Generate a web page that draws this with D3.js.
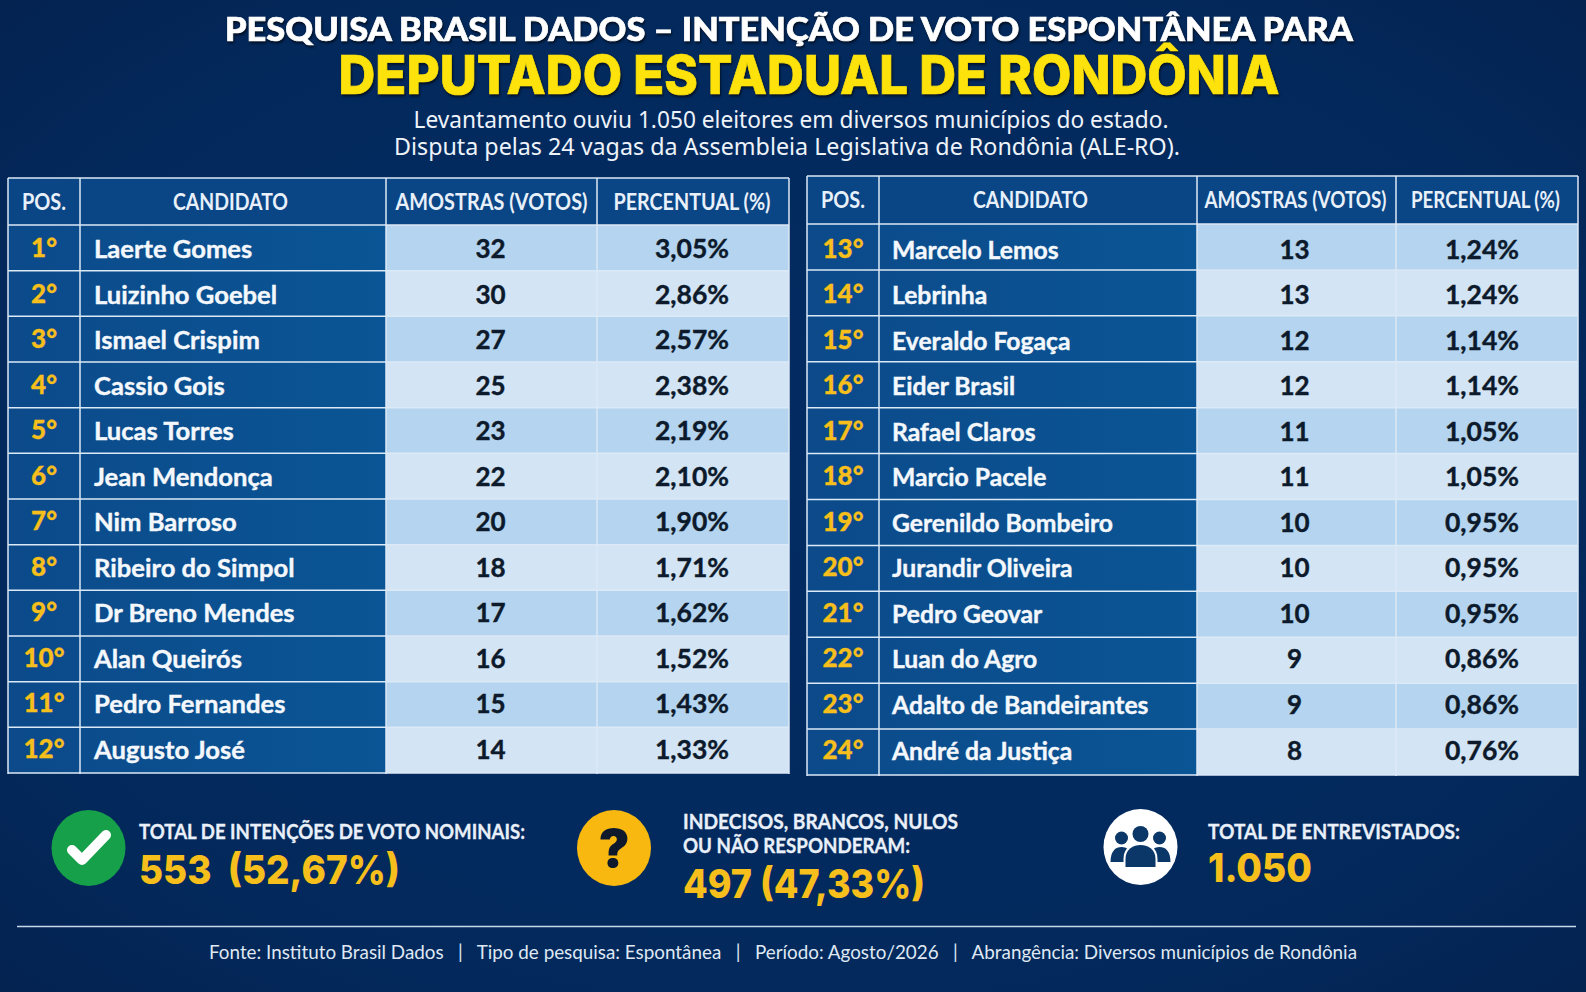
<!DOCTYPE html>
<html lang="pt-BR">
	<head>
		<meta charset="utf-8">
		<title>Pesquisa Brasil Dados - Deputado Estadual de Rondônia</title>
		<script src="https://cdn.jsdelivr.net/npm/d3@7"></script>
		<style>
			html, body { margin: 0; padding: 0; background: #03285b; overflow: hidden; }
			svg { display: block; }
			text { font-family: Lato, "Noto Sans", sans-serif; white-space: pre; }
		</style>
	</head>
	<body>
		<script type="text/javascript">
			// data
			var positions = ["1°","2°","3°","4°","5°","6°","7°","8°","9°","10°","11°","12°","13°","14°","15°","16°","17°","18°","19°","20°","21°","22°","23°","24°"];
			var candidates = ["Laerte Gomes","Luizinho Goebel","Ismael Crispim","Cassio Gois","Lucas Torres","Jean Mendonça","Nim Barroso","Ribeiro do Simpol","Dr Breno Mendes","Alan Queirós","Pedro Fernandes","Augusto José","Marcelo Lemos","Lebrinha","Everaldo Fogaça","Eider Brasil","Rafael Claros","Marcio Pacele","Gerenildo Bombeiro","Jurandir Oliveira","Pedro Geovar","Luan do Agro","Adalto de Bandeirantes","André da Justiça"];
			var votes = [32,30,27,25,23,22,20,18,17,16,15,14,13,13,12,12,11,11,10,10,10,9,9,8];
			var percents = ["3,05%","2,86%","2,57%","2,38%","2,19%","2,10%","1,90%","1,71%","1,62%","1,52%","1,43%","1,33%","1,24%","1,24%","1,14%","1,14%","1,05%","1,05%","0,95%","0,95%","0,95%","0,86%","0,86%","0,76%"];
			var headers = ["POS.","CANDIDATO","AMOSTRAS (VOTOS)","PERCENTUAL (%)"];
			var footerParts = ["Fonte: Instituto Brasil Dados","Tipo de pesquisa: Espontânea","Período: Agosto/2026","Abrangência: Diversos municípios de Rondônia"];

			var width = 1586;
			var height = 992;
			var yellow = "#f6bf1c";

			var svg = d3.select("body").append("svg").attr("width", width).attr("height", height);
			var defs = svg.append("defs");

			// background
			var bg = defs.append("radialGradient").attr("id", "bg").attr("cx", "50%").attr("cy", "50%").attr("r", "75%");
			bg.append("stop").attr("offset", "0%").attr("stop-color", "#032c63");
			bg.append("stop").attr("offset", "70%").attr("stop-color", "#03295c");
			bg.append("stop").attr("offset", "100%").attr("stop-color", "#04214e");
			svg.append("rect").attr("width", width).attr("height", height).attr("fill", "url(#bg)");

			var dark = defs.append("linearGradient").attr("id", "darkCell").attr("x1", 0).attr("y1", 0).attr("x2", 1).attr("y2", 0);
			dark.append("stop").attr("offset", "0%").attr("stop-color", "#0c4a8a");
			dark.append("stop").attr("offset", "100%").attr("stop-color", "#0a5595");

			// titles
			function title(txt, x, y, size, weight, color, len, font, shadow) {
				var t = svg.append("text")
					.attr("x", x)
					.attr("y", y)
					.attr("text-anchor", "middle")
					.attr("font-size", size)
					.attr("font-weight", weight)
					.attr("fill", color)
					.attr("textLength", len)
					.attr("lengthAdjust", "spacingAndGlyphs")
					.style("font-family", font)
					.text(txt);
				if (shadow) {
					t.attr("stroke", color).attr("stroke-width", 0.7)
						.style("filter", "drop-shadow(1px 2px 1px rgba(0,0,0,0.6))");
				}
			}
			title("PESQUISA BRASIL DADOS – INTENÇÃO DE VOTO ESPONTÂNEA PARA", 789, 41, 32, 900, "#ffffff", 1128, "Lato", true);
			title("DEPUTADO ESTADUAL DE RONDÔNIA", 809, 94, 53, 800, "#fde20c", 941, "Inter", true);
			title("Levantamento ouviu 1.050 eleitores em diversos municípios do estado.", 791, 128, 24, 400, "#eef3fa", 755, "'Noto Sans'", false);
			title("Disputa pelas 24 vagas da Assembleia Legislativa de Rondônia (ALE-RO).", 787, 155, 24, 400, "#eef3fa", 786, "'Noto Sans'", false);

			function drawTable(start, end, edges, top, headBottom, bottom, textRange, nameX, nameSize, headX, headLen, voteX, pctX) {
				var ids = d3.range(start, end);
				var y = d3.scaleBand().domain(ids).range([headBottom, bottom]);
				// text baselines run on a slightly tighter step than the cells
				var ty = d3.scalePoint().domain(ids).range(textRange);
				var g = svg.append("g");
				var lineColor = "#dce9f6";

				// header
				g.append("rect").attr("x", edges[0]).attr("y", top).attr("width", edges[4] - edges[0]).attr("height", headBottom - top).attr("fill", "#0a4585");
				headers.forEach(function (h, i) {
					g.append("text")
						.attr("x", headX[i])
						.attr("y", (top + headBottom) / 2 + 8)
						.attr("text-anchor", "middle")
						.attr("font-size", 22)
						.attr("font-weight", 700)
						.attr("fill", "#e8f0fa")
						.attr("textLength", headLen[i])
						.attr("lengthAdjust", "spacingAndGlyphs")
						.text(h);
				});

				// cells
				var rows = g.selectAll("g.row").data(ids).enter().append("g").attr("class", "row");
				rows.append("rect")
					.attr("x", edges[0]).attr("width", edges[2] - edges[0])
					.attr("y", function (d) { return y(d); })
					.attr("height", y.bandwidth())
					.attr("fill", "url(#darkCell)");
				rows.append("rect")
					.attr("x", edges[2]).attr("width", edges[4] - edges[2])
					.attr("y", function (d) { return y(d); })
					.attr("height", y.bandwidth())
					.attr("fill", function (d) { return (d - start) % 2 === 0 ? "#b4d4ef" : "#d3e4f5"; });

				rows.append("text")
					.attr("x", (edges[0] + edges[1]) / 2)
					.attr("y", function (d) { return ty(d) - 1; })
					.attr("text-anchor", "middle")
					.attr("font-size", 26)
					.attr("font-weight", 900)
					.attr("fill", yellow)
					.attr("stroke", yellow)
					.attr("stroke-width", 0.3)
					.text(function (d) { return positions[d]; });
				rows.append("text")
					.attr("x", nameX)
					.attr("y", function (d) { return ty(d); })
					.attr("font-size", nameSize)
					.attr("font-weight", 700)
					.attr("fill", "#f4f8fc")
					.attr("stroke", "#f4f8fc")
					.attr("stroke-width", 0.4)
					.text(function (d) { return candidates[d]; });
				rows.append("text")
					.attr("x", voteX)
					.attr("y", function (d) { return ty(d); })
					.attr("text-anchor", "middle")
					.attr("font-size", 26)
					.attr("font-weight", 700)
					.attr("fill", "#0d1a2b")
					.attr("stroke", "#0d1a2b")
					.attr("stroke-width", 0.4)
					.text(function (d) { return votes[d]; });
				rows.append("text")
					.attr("x", pctX)
					.attr("y", function (d) { return ty(d); })
					.attr("text-anchor", "middle")
					.attr("font-size", 26.5)
					.attr("font-weight", 700)
					.attr("fill", "#0d1a2b")
					.attr("stroke", "#0d1a2b")
					.attr("stroke-width", 0.4)
					.text(function (d) { return percents[d]; });

				// grid lines
				edges.forEach(function (x) {
					g.append("line").attr("x1", x).attr("x2", x).attr("y1", top).attr("y2", bottom + 1)
						.attr("stroke", lineColor).attr("stroke-width", 1.5);
				});
				[top, bottom].concat(ids.map(function (d) { return y(d); })).forEach(function (v) {
					g.append("line").attr("x1", edges[0]).attr("x2", edges[4]).attr("y1", v).attr("y2", v)
						.attr("stroke", lineColor).attr("stroke-width", 1.5);
				});
			}
			drawTable(0, 12, [8, 80, 386, 597, 789], 178, 225, 773, [258.3, 758.7], 94, 25.6, [44, 230.5, 491.5, 692], [44, 115, 192, 157], 490.5, 692);
			drawTable(12, 24, [807, 879, 1197, 1396, 1578], 176, 224, 775, [258.5, 759.5], 892, 24.7, [843, 1030.5, 1295.5, 1485.5], [44, 115, 182, 149], 1294.5, 1482);

			// summary row
			function summary(x, lines, value, valueY, valueLen) {
				lines.forEach(function (l) {
					svg.append("text")
						.attr("x", x).attr("y", l.y)
						.attr("font-size", 20)
						.attr("font-weight", 700)
						.attr("fill", "#e9f0f9")
						.attr("stroke", "#e9f0f9")
						.attr("stroke-width", 0.3)
						.attr("textLength", l.len)
						.attr("lengthAdjust", "spacingAndGlyphs")
						.text(l.t);
				});
				svg.append("text")
					.attr("x", x).attr("y", valueY)
					.attr("font-size", 40)
					.attr("font-weight", 800)
					.attr("fill", yellow)
					.attr("textLength", valueLen)
					.attr("lengthAdjust", "spacingAndGlyphs")
					.style("font-family", "Inter")
					.text(value);
			}
			summary(139, [{ t: "TOTAL DE INTENÇÕES DE VOTO NOMINAIS:", y: 839, len: 386 }], "553  (52,67%)", 884, 261);
			summary(683, [{ t: "INDECISOS, BRANCOS, NULOS", y: 829, len: 275 }, { t: "OU NÃO RESPONDERAM:", y: 853, len: 227 }], "497 (47,33%)", 898, 242);
			summary(1208, [{ t: "TOTAL DE ENTREVISTADOS:", y: 839, len: 252 }], "1.050", 882, 104);

			// check icon
			svg.append("ellipse").attr("cx", 88.5).attr("cy", 848).attr("rx", 37).attr("ry", 38).attr("fill", "#16a04a");
			svg.append("path")
				.attr("d", "M72 850 L82 860 L106 835")
				.attr("fill", "none").attr("stroke", "#ffffff").attr("stroke-width", 10)
				.attr("stroke-linecap", "round").attr("stroke-linejoin", "round");

			// question icon
			svg.append("ellipse").attr("cx", 614).attr("cy", 848).attr("rx", 37).attr("ry", 38).attr("fill", "#f8b80f");
			svg.append("text").attr("x", 614).attr("y", 867).attr("text-anchor", "middle")
				.attr("font-size", 52).attr("font-weight", 900).attr("fill", "#0e1a2c")
				.style("font-family", "Inter").text("?");

			// people icon
			var navy = "#0b3768";
			var people = svg.append("g").attr("transform", "translate(1140.5,847)");
			people.append("ellipse").attr("rx", 37).attr("ry", 38).attr("fill", "#ffffff");
			[-19, 19].forEach(function (dx) {
				people.append("circle").attr("cx", dx).attr("cy", -9).attr("r", 6.5).attr("fill", navy);
				people.append("path")
					.attr("d", "M" + (dx - 11) + " 15 C" + (dx - 11) + " 4 " + (dx - 6) + " 0 " + dx + " 0 C" + (dx + 6) + " 0 " + (dx + 11) + " 4 " + (dx + 11) + " 15 Z")
					.attr("fill", navy);
			});
			people.append("circle").attr("cy", -13).attr("r", 9.5).attr("fill", "#ffffff");
			people.append("circle").attr("cy", -13).attr("r", 8).attr("fill", navy);
			people.append("path").attr("d", "M-17 21 L-17 12 C-17 0 -8 -4 0 -4 C8 -4 17 0 17 12 L17 21 Z")
				.attr("fill", "#ffffff");
			people.append("path").attr("d", "M-15 20 L-15 12 C-15 2 -7 -2 0 -2 C7 -2 15 2 15 12 L15 20 Z")
				.attr("fill", navy);

			// footer
			svg.append("line").attr("x1", 17).attr("x2", 1576).attr("y1", 926.5).attr("y2", 926.5).attr("stroke", "#c9d8ea").attr("stroke-width", 1.5);
			svg.append("text")
				.attr("x", 783).attr("y", 959)
				.attr("text-anchor", "middle")
				.attr("font-size", 19)
				.attr("fill", "#dfe8f3")
				.attr("textLength", 1148)
				.attr("lengthAdjust", "spacingAndGlyphs")
				.text(footerParts.join("   |   "));
		</script>
	</body>
</html>
